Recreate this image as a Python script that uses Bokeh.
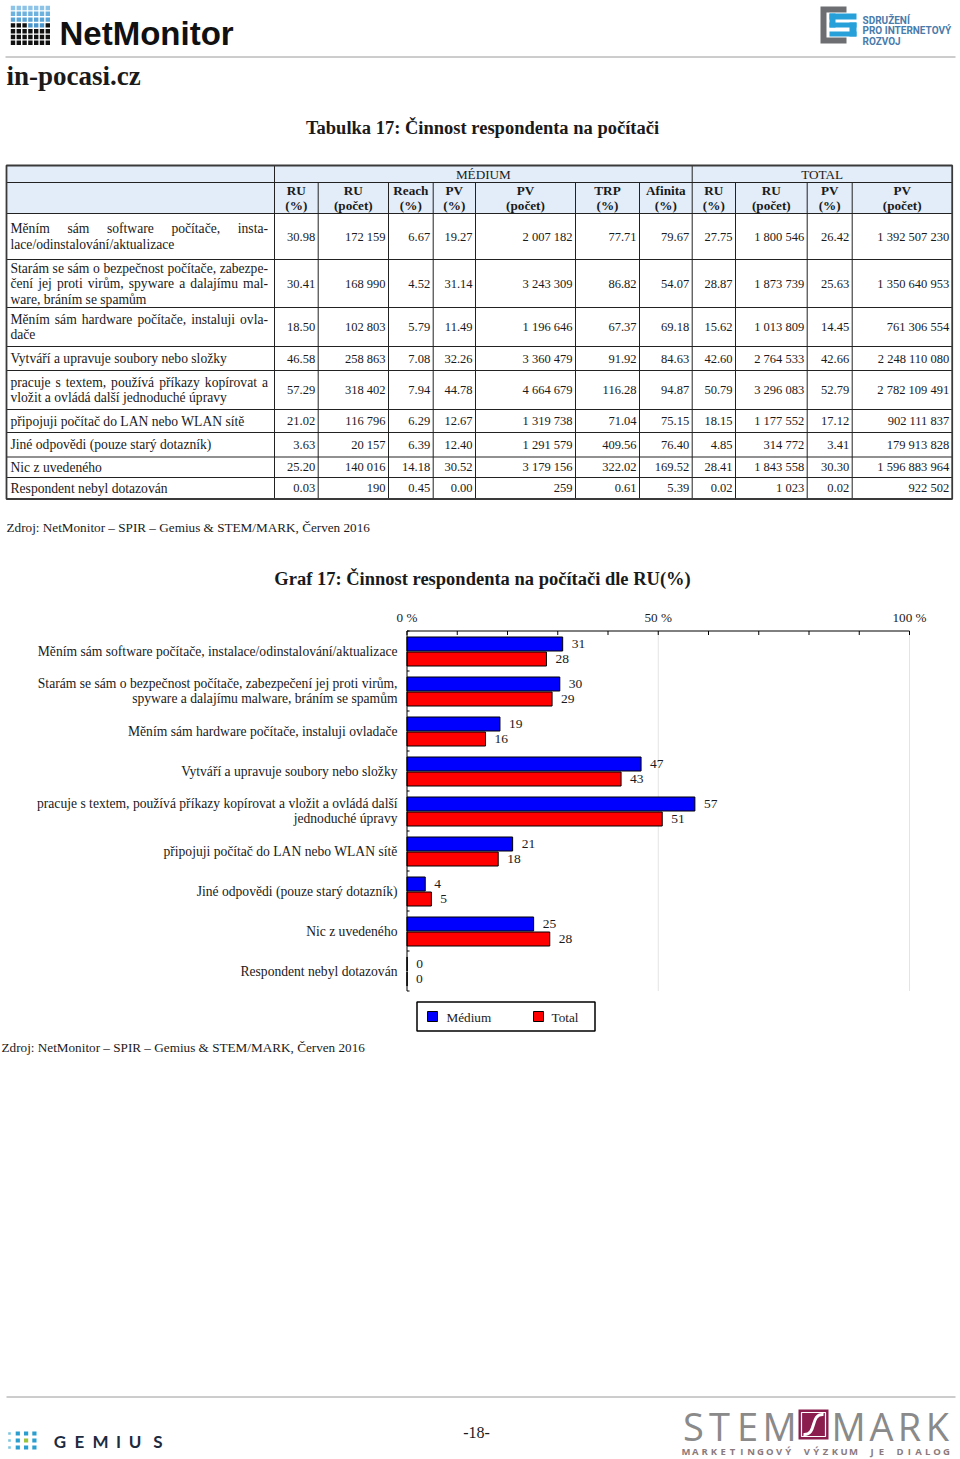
import unicodedata
from bokeh.plotting import figure
from bokeh.models import Range1d, ColumnDataSource
from bokeh.embed import file_html
from bokeh.resources import INLINE
from bokeh.core.properties import value

SERIF = "Liberation Serif"
SANS = "Liberation Sans"

# ------------------------------------------------------------------ data
table_title = "Tabulka 17: Činnost respondenta na počítači"
chart_title = "Graf 17: Činnost respondenta na počítači dle RU(%)"
source_text = "Zdroj: NetMonitor – SPIR – Gemius & STEM/MARK, Červen 2016"

group_headers = ["MÉDIUM", "TOTAL"]
col_headers_top = ["RU", "RU", "Reach", "PV", "PV", "TRP", "Afinita", "RU", "RU", "PV", "PV"]
col_headers_bot = ["(%)", "(počet)", "(%)", "(%)", "(počet)", "(%)", "(%)", "(%)", "(počet)", "(%)", "(počet)"]

# table row labels (as typeset, with hyphenation)
table_label_lines = [
    ["Měním sám software počítače, insta-", "lace/odinstalování/aktualizace"],
    ["Starám se sám o bezpečnost počítače, zabezpe-", "čení jej proti virům, spyware a dalajímu mal-", "ware, bráním se spamům"],
    ["Měním sám hardware počítače, instaluji ovla-", "dače"],
    ["Vytváří a upravuje soubory nebo složky"],
    ["pracuje s textem, používá příkazy kopírovat a", "vložit a ovládá další jednoduché úpravy"],
    ["připojuji počítač do LAN nebo WLAN sítě"],
    ["Jiné odpovědi (pouze starý dotazník)"],
    ["Nic z uvedeného"],
    ["Respondent nebyl dotazován"],
]
# chart category labels
chart_label_lines = [
    ["Měním sám software počítače, instalace/odinstalování/aktualizace"],
    ["Starám se sám o bezpečnost počítače, zabezpečení jej proti virům,", "spyware a dalajímu malware, bráním se spamům"],
    ["Měním sám hardware počítače, instaluji ovladače"],
    ["Vytváří a upravuje soubory nebo složky"],
    ["pracuje s textem, používá příkazy kopírovat a vložit a ovládá další", "jednoduché úpravy"],
    ["připojuji počítač do LAN nebo WLAN sítě"],
    ["Jiné odpovědi (pouze starý dotazník)"],
    ["Nic z uvedeného"],
    ["Respondent nebyl dotazován"],
]

ru_pct_medium = [30.98, 30.41, 18.50, 46.58, 57.29, 21.02, 3.63, 25.20, 0.03]
ru_count_medium = [172159, 168990, 102803, 258863, 318402, 116796, 20157, 140016, 190]
reach_pct = [6.67, 4.52, 5.79, 7.08, 7.94, 6.29, 6.39, 14.18, 0.45]
pv_pct_medium = [19.27, 31.14, 11.49, 32.26, 44.78, 12.67, 12.40, 30.52, 0.00]
pv_count_medium = [2007182, 3243309, 1196646, 3360479, 4664679, 1319738, 1291579, 3179156, 259]
trp_pct = [77.71, 86.82, 67.37, 91.92, 116.28, 71.04, 409.56, 322.02, 0.61]
afinita_pct = [79.67, 54.07, 69.18, 84.63, 94.87, 75.15, 76.40, 169.52, 5.39]
ru_pct_total = [27.75, 28.87, 15.62, 42.60, 50.79, 18.15, 4.85, 28.41, 0.02]
ru_count_total = [1800546, 1873739, 1013809, 2764533, 3296083, 1177552, 314772, 1843558, 1023]
pv_pct_total = [26.42, 25.63, 14.45, 42.66, 52.79, 17.12, 3.41, 30.30, 0.02]
pv_count_total = [1392507230, 1350640953, 761306554, 2248110080, 2782109491, 902111837, 179913828, 1596883964, 922502]

series_names = ["Médium", "Total"]
series_colors = ["#0000ff", "#ff0000"]
x_tick_values = [0, 50, 100]
x_tick_labels = ["0 %", "50 %", "100 %"]

# ------------------------------------------------------------------ helpers
TIMES = {" ": 250, ",": 250, ".": 250, "-": 333, "/": 278, "(": 333, ")": 333, ":": 278,
         "a": 444, "b": 500, "c": 444, "d": 500, "e": 444, "f": 333, "g": 500, "h": 500,
         "i": 278, "j": 278, "k": 500, "l": 278, "m": 778, "n": 500, "o": 500, "p": 500,
         "q": 500, "r": 333, "s": 389, "t": 278, "u": 500, "v": 500, "w": 722, "x": 500,
         "y": 500, "z": 444, "A": 722, "L": 611, "M": 889, "N": 722, "S": 556, "V": 722,
         "W": 944, "J": 389, "R": 667}

TXT = 13.6   # body text size


def text_width(s, size):
    tot = 0
    for ch in s:
        base = unicodedata.normalize("NFD", ch)[0]
        tot += TIMES.get(base, 500)
    return tot * size / 1000.0


def fmt_count(n):
    return f"{n:,}".replace(",", " ")


def fmt_pct(v):
    return f"{v:.2f}"


def round_half_up(v):
    return int(v + 0.5)


PX0, PX1, PY0, PY1 = 0, 960, 0, 1459
p = figure(width=PX1 - PX0, height=PY1 - PY0, x_range=Range1d(PX0, PX1), y_range=Range1d(PY1, PY0),
           output_backend="svg", toolbar_location=None, tools="", x_axis_location=None,
           y_axis_location=None, min_border=0, outline_line_color=None)
p.grid.visible = False
p.background_fill_color = "white"
p.border_fill_color = "white"


def T(x, y, text, size=TXT, align="left", baseline="middle", bold=False, font=SERIF,
      color="#1a1a1a", xr="default", yr="default", x_offset=0, y_offset=0):
    src = ColumnDataSource(dict(x=list(x), y=list(y), text=list(text)))
    p.text(x="x", y="y", text="text", source=src, text_font=value(font),
           text_font_size=f"{size}px", text_align=align, text_baseline=baseline,
           text_font_style="bold" if bold else "normal", text_color=color,
           x_range_name=xr, y_range_name=yr, x_offset=x_offset, y_offset=y_offset)


def seg(x0, y0, x1, y1, color="#222222", width=1.0, xr="default", yr="default"):
    p.segment(x0=x0, y0=y0, x1=x1, y1=y1, line_color=color, line_width=width,
              x_range_name=xr, y_range_name=yr)


# ------------------------------------------------------------------ header
sq_x, sq_y = [], []
sq_c = []
pattern = ["bbbbbbb", "bbbbbbb", "bbbbbbb", "kkkbbbk", "kkkkkkk", "kkkkkkk", "kkkkkkk"]
blues = ["#8cc3e6", "#6db1de", "#5aa3d6", "#4a96cc"]
for r, row in enumerate(pattern):
    for c, ch in enumerate(row):
        sq_x.append(12.5 + c * 5.8)
        sq_y.append(7.5 + r * 5.8)
        sq_c.append(blues[min(r, 3)] if ch == "b" else "#111111")
p.rect(x=sq_x, y=sq_y, width=4.4, height=4.4, fill_color=sq_c, line_color=None)
T([59], [33], ["NetMonitor"], size=33, bold=True, font=SANS, color="#111111")
seg([5], [56.5], [955], [56.5], color="#9a9a9a", width=1)
T([6], [75], ["in-pocasi.cz"], size=27, bold=True, color="#1a1a1a")

# SPIR logo
p.quad(left=[820], right=[846], top=[6], bottom=[43], fill_color="#6d6e71", line_color=None)
p.quad(left=[826], right=[860], top=[12], bottom=[37], fill_color="white", line_color=None)
p.quad(left=[829, 829, 829, 849, 829], right=[856, 835, 856, 856, 856],
       top=[13, 13, 22, 22, 31], bottom=[19, 27, 27, 36, 36], fill_color="#27a0d9", line_color=None)
T([862, 862, 862], [19.5, 30, 40.5], ["SDRUŽENÍ", "PRO INTERNETOVÝ", "ROZVOJ"], size=10,
  bold=True, font="Roboto", color="#4a7bab")

# ------------------------------------------------------------------ table
T([482], [127], [table_title], size=18.5, align="center", bold=True)

col_edges = [6, 274, 317.7, 388, 432.7, 475, 575, 639, 691.7, 735, 806.7, 851.7, 951.7]
row_edges = [165, 182, 213, 259, 307, 346, 370, 409, 432, 456.5, 477, 498.5]
L, R, TOP, BOT = col_edges[0], col_edges[-1], row_edges[0], row_edges[-1]

p.quad(left=[L], right=[R], top=[TOP], bottom=[row_edges[2]], fill_color="#e2edf9", line_color=None)

# horizontal lines
seg([L] * (len(row_edges) - 2), row_edges[1:-1], [R] * (len(row_edges) - 2), row_edges[1:-1])
# vertical lines
full = [col_edges[1], col_edges[8]]
inner = [x for i, x in enumerate(col_edges[1:-1], start=1) if i not in (1, 8)]
seg(full, [TOP] * len(full), full, [BOT] * len(full))
seg(inner, [row_edges[1]] * len(inner), inner, [BOT] * len(inner))
# outer border
p.quad(left=[L], right=[R], top=[TOP], bottom=[BOT], fill_color=None, line_color="#3a3a3a", line_width=1.8)

# group headers
T([(col_edges[1] + col_edges[8]) / 2, (col_edges[8] + col_edges[12]) / 2],
  [(row_edges[0] + row_edges[1]) / 2 + 0.5] * 2, group_headers, size=13.2, align="center")
cx = [(col_edges[j] + col_edges[j + 1]) / 2 for j in range(1, 12)]
hc = (row_edges[1] + row_edges[2]) / 2
T(cx, [hc - 7.5] * 11, col_headers_top, size=13.2, align="center", bold=True)
T(cx, [hc + 7.5] * 11, col_headers_bot, size=13.2, align="center", bold=True)

# row labels (justified as in the source)
LX0, LX1 = 10, 267.5
lx, ly, lt = [], [], []
for i, lines in enumerate(table_label_lines):
    yc = (row_edges[i + 2] + row_edges[i + 3]) / 2
    n = len(lines)
    for k, line in enumerate(lines):
        y = yc + (k - (n - 1) / 2) * 15.5
        words = line.split(" ")
        if k < n - 1 and len(words) > 1:
            ws = [text_width(w, TXT) for w in words]
            gap = (LX1 - LX0 - sum(ws)) / (len(words) - 1)
            x = LX0
            for w, wd in zip(words, ws):
                lx.append(x); ly.append(y); lt.append(w)
                x += wd + gap
        else:
            lx.append(LX0); ly.append(y); lt.append(line)
T(lx, ly, lt)

columns = [
    [fmt_pct(v) for v in ru_pct_medium],
    [fmt_count(v) for v in ru_count_medium],
    [fmt_pct(v) for v in reach_pct],
    [fmt_pct(v) for v in pv_pct_medium],
    [fmt_count(v) for v in pv_count_medium],
    [fmt_pct(v) for v in trp_pct],
    [fmt_pct(v) for v in afinita_pct],
    [fmt_pct(v) for v in ru_pct_total],
    [fmt_count(v) for v in ru_count_total],
    [fmt_pct(v) for v in pv_pct_total],
    [fmt_count(v) for v in pv_count_total],
]
nx, ny, nt = [], [], []
for j, col in enumerate(columns):
    for i, s in enumerate(col):
        nx.append(col_edges[j + 2] - 3)
        ny.append((row_edges[i + 2] + row_edges[i + 3]) / 2)
        nt.append(s)
T(nx, ny, nt, size=12.5, align="right")

T([6], [527], [source_text], size=13.2)

# ------------------------------------------------------------------ chart
T([482], [578], [chart_title], size=18.5, align="center", bold=True)

X0, X1 = 406.5, 909.0      # page x of 0 % and 100 %
Y0, GH = 630.5, 40.0       # page y of the chart top and height of one category band
p.extra_x_ranges = {"cx": Range1d((PX0 - X0) * 100 / (X1 - X0), (PX1 - X0) * 100 / (X1 - X0))}
p.extra_y_ranges = {"cy": Range1d((PY1 - Y0) / GH, (PY0 - Y0) / GH)}

ncat = len(ru_pct_medium)
idx = list(range(ncat))
# grid
seg(x_tick_values[1:], [0] * 2, x_tick_values[1:], [ncat] * 2, color="#e4e4e4", width=1, xr="cx", yr="cy")

series = [ru_pct_medium, ru_pct_total]
offsets = [0.325, 0.70]
for vals, off, col in zip(series, offsets, series_colors):
    ys = [i + off for i in idx]
    src = ColumnDataSource(dict(y=ys, right=vals, lab=[str(round_half_up(v)) for v in vals]))
    p.hbar(y="y", left=0, right="right", height=0.35, source=src, fill_color=col,
           line_color="#000000", line_width=1, x_range_name="cx", y_range_name="cy")
    p.text(x="right", y="y", text="lab", source=src, x_offset=9, text_font=value(SERIF),
           text_font_size="13.5px", text_baseline="middle", text_align="left", text_color="#1a1a1a",
           x_range_name="cx", y_range_name="cy")

# axes
seg([0], [0], [100], [0], color="#000000", width=1, xr="cx", yr="cy")
minor = list(range(0, 101, 10))
seg(minor, [0] * len(minor), minor, [0.1] * len(minor), color="#000000", width=1, xr="cx", yr="cy")
seg([0], [0], [0], [ncat], color="#000000", width=1, xr="cx", yr="cy")
yt = list(range(0, ncat + 1))
seg([0] * len(yt), yt, [0.5] * len(yt), yt, color="#000000", width=1, xr="cx", yr="cy")
T(x_tick_values, [-0.33] * 3, x_tick_labels, size=13.2, align="center", xr="cx", yr="cy")

# category labels
cxs, cys, cts = [], [], []
for i, lines in enumerate(chart_label_lines):
    n = len(lines)
    for k, line in enumerate(lines):
        cxs.append(397)
        cys.append(i + 0.5 + (k - (n - 1) / 2) * 15.5 / GH)
        cts.append(line)
T(cxs, cys, cts, align="right", yr="cy")

# legend
p.quad(left=[416.5], right=[594.5], top=[1001.5], bottom=[1030.5], fill_color="white",
       line_color="#000000", line_width=1.5)
p.quad(left=[427, 533], right=[437, 543], top=[1011, 1011], bottom=[1021, 1021],
       fill_color=series_colors, line_color="#000000", line_width=1)
T([446, 551], [1016.5, 1016.5], series_names, size=13.2)

T([1], [1047], [source_text], size=13.2)

# ------------------------------------------------------------------ footer
seg([6], [1396.5], [955], [1396.5], color="#9a9a9a", width=1)
gx, gy, gc, gs = [], [], [], []
for r in range(3):
    for c in range(4):
        gx.append(9 + c * 8.3)
        gy.append(1433 + r * 7)
        gc.append("#9cc33c" if (r == 1 and c == 2) else ("#7cc6e0" if c == 0 else "#2a9fcf"))
        gs.append(2.6 if c == 0 else 4.2)
p.rect(x=gx, y=gy, width=gs, height=gs, fill_color=gc, line_color=None)
T([59.5, 79, 100, 118, 134.5, 157.5], [1441] * 6, list("GEMIUS"), size=17, align="center",
  bold=True, font="Lato", color="#1d2b3f")

T([476], [1432], ["-18-"], size=16, align="center")

T([693, 719, 747, 779], [1425] * 4, list("STEM"), size=38, align="center",
  font="Open Sans", color="#8a8a8a")
T([848, 881, 909, 937], [1425] * 4, list("MARK"), size=38, align="center",
  font="Open Sans", color="#8a8a8a")
p.quad(left=[798], right=[828], top=[1409], bottom=[1439], fill_color="#8b1c4e", line_color=None)
p.quad(left=[801], right=[825], top=[1412], bottom=[1436], fill_color=None, line_color="white", line_width=1.2)
p.bezier(x0=[803], y0=[1434], x1=[823], y1=[1414], cx0=[817], cy0=[1435], cx1=[809], cy1=[1413],
         line_color="white", line_width=3)
sub = "MARKETINGOVÝ VÝZKUM JE DIALOG"
T([685.5 + k * 9.3 for k in range(len(sub))], [1450.5] * len(sub), list(sub), size=9.5, align="center",
  bold=True, font="Open Sans", color="#8a7a7e")

open("out.html", "w").write(file_html(p, INLINE))
